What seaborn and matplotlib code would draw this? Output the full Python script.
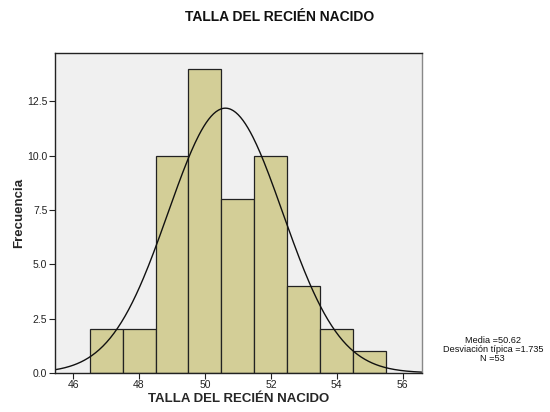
import numpy as np
import matplotlib
matplotlib.use("Agg")
import matplotlib.pyplot as plt
import seaborn as sns

# histogram data
bin_centers = [47, 48, 49, 50, 51, 52, 53, 54, 55]
counts = [2, 2, 10, 14, 8, 10, 4, 2, 1]
bin_edges = [46.5, 47.5, 48.5, 49.5, 50.5, 51.5, 52.5, 53.5, 54.5, 55.5]
media = 50.62
desv = 1.735
n = 53
x_ticks = [46, 48, 50, 52, 54, 56]
y_ticks = [0.0, 2.5, 5.0, 7.5, 10.0, 12.5]

sns.set_style("white")
plt.rcParams['font.family'] = ['Liberation Sans', 'DejaVu Sans']

fig = plt.figure(figsize=(5.5, 4.12), dpi=100)
ax = fig.add_axes([0.1, 0.095, 0.667, 0.776])
ax.set_facecolor("#f0f0f0")

sns.histplot(x=bin_centers, weights=counts, bins=bin_edges, ax=ax,
             color="#d3ce97", edgecolor="#222222", linewidth=0.9, alpha=1)

# normal curve from the displayed mean / sd
xs = np.linspace(45.45, 56.6, 300)
ys = n * 1.0 / (desv * np.sqrt(2 * np.pi)) * np.exp(-0.5 * ((xs - media) / desv) ** 2)
sns.lineplot(x=xs, y=ys, ax=ax, color="#111111", linewidth=1.0)

ax.set_xlim(45.45, 56.58)
ax.set_ylim(0, 14.72)
ax.set_xticks(x_ticks)
ax.set_yticks(y_ticks)
ax.set_yticklabels([f"{v:.1f}" for v in y_ticks])
ax.tick_params(axis="both", which="both", direction="out", length=4,
               width=0.8, labelsize=7.5, colors="#222222", pad=1.5,
               bottom=True, left=True)

for side, s in ax.spines.items():
    s.set_visible(True)
    s.set_color("#222222")
    s.set_linewidth(1.0)
ax.spines["right"].set_color("#888888")

ax.set_xlabel("TALLA DEL RECIÉN NACIDO", fontsize=9.5, fontweight="bold", labelpad=2)
ax.set_ylabel("Frecuencia", fontsize=9.5, fontweight="bold", labelpad=1.5)

fig.text(0.509, 0.958, "TALLA DEL RECIÉN NACIDO", ha="center", va="center",
         fontsize=10, fontweight="bold", color="#111111")

fig.text(0.896, 0.152,
         f"Media ={media:.2f}\nDesviación típica ={desv:.3f}\nN ={n}",
         ha="center", va="center", fontsize=6.6, linespacing=0.95, color="#111111")

fig.savefig("out.png", dpi=100)
